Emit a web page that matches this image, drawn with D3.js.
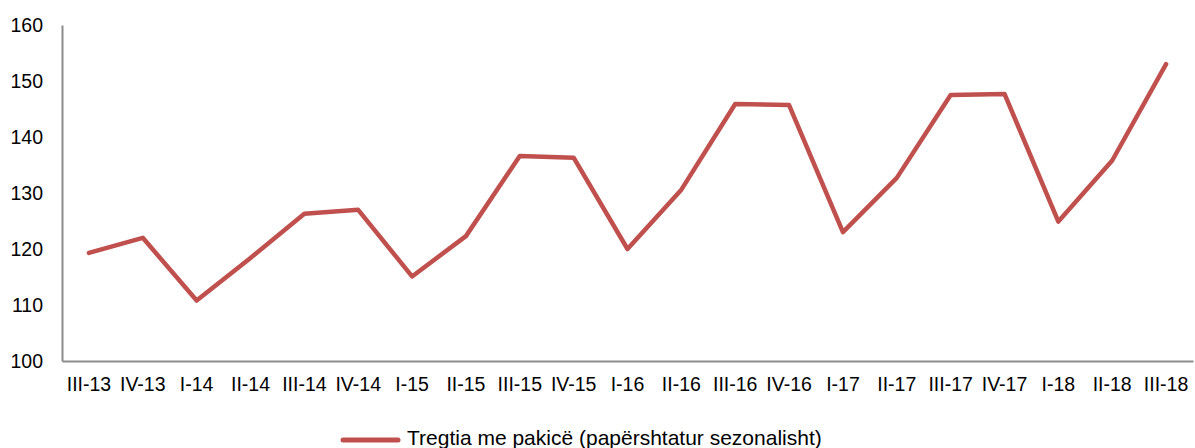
<!DOCTYPE html>
<html><head><meta charset="utf-8">
<script src="https://cdn.jsdelivr.net/npm/d3@7"></script>
<style>body{margin:0;background:#fff}svg{display:block}text{font-family:"Liberation Sans",Arial,sans-serif}</style>
</head><body><svg id="c" width="1195" height="448"></svg>
<script>
const categories = ["III-13","IV-13","I-14","II-14","III-14","IV-14","I-15","II-15","III-15","IV-15","I-16","II-16","III-16","IV-16","I-17","II-17","III-17","IV-17","I-18","II-18","III-18"];
const values = [119.3,122.0,110.8,118.4,126.3,127.0,115.1,122.3,136.6,136.3,120.0,130.6,145.9,145.7,123.0,132.7,147.5,147.7,124.9,135.8,153.0];
const yTicks = [100,110,120,130,140,150,160];
const seriesName = "Tregtia me pakicë (papërshtatur sezonalisht)";

(function(){
const svg = d3.select("#c");
const mLeft = 62, mRight = 1193, mTop = 25, mBottom = 361;
const x = d3.scaleBand().domain(categories).range([mLeft, mRight]);
const y = d3.scaleLinear().domain([100,160]).range([mBottom, mTop]);

const xAxis = svg.append("g").attr("transform", `translate(0,${mBottom})`)
  .call(d3.axisBottom(x).tickSize(0).tickPadding(16));
xAxis.select(".domain").attr("stroke","#8c8c8c").attr("stroke-width",2);
xAxis.selectAll("text").attr("font-size",19.5).attr("fill","#000").attr("font-family","Liberation Sans, Arial, sans-serif");

const yAxis = svg.append("g").attr("transform", `translate(${mLeft},0)`)
  .call(d3.axisLeft(y).tickValues(yTicks).tickSize(0).tickPadding(19));
yAxis.select(".domain").attr("stroke","#8c8c8c").attr("stroke-width",2);
yAxis.selectAll("text").attr("font-size",19.5).attr("fill","#000").attr("font-family","Liberation Sans, Arial, sans-serif");

const line = d3.line().x((d,i)=>x(categories[i]) + x.bandwidth()/2).y(d=>y(d));
svg.append("path").datum(values).attr("d", line)
  .attr("fill","none").attr("stroke","#C0504D").attr("stroke-width",4.5)
  .attr("stroke-linejoin","round").attr("stroke-linecap","round");

const lg = svg.append("g").attr("transform","translate(343,440)");
lg.append("line").attr("x1",0).attr("x2",55).attr("y1",0).attr("y2",0)
  .attr("stroke","#C0504D").attr("stroke-width",5).attr("stroke-linecap","round");
lg.append("text").attr("x",64).attr("y",5).attr("font-size",21).attr("fill","#000").text(seriesName);
})();
</script></body></html>
